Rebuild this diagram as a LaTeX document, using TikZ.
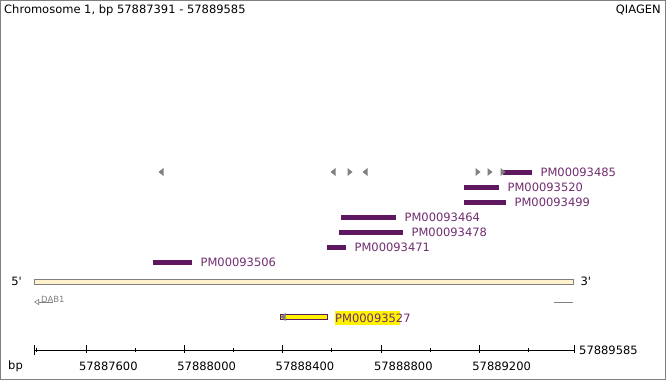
\documentclass[tikz,border=0pt]{standalone}
\usepackage{fontspec}
\setmainfont{DejaVu Sans}
\usetikzlibrary{arrows.meta,positioning}
\definecolor{tfpurple}{RGB}{94,24,96}
\definecolor{tftext}{RGB}{112,44,112}
\definecolor{genecream}{RGB}{255,242,204}
\definecolor{markgray}{RGB}{128,128,128}

\begin{document}
\begin{tikzpicture}[
  x=1pt,y=-1pt,
  font=\fontsize{11.5}{13}\selectfont,
  frame/.style={draw=gray,line width=.8pt},
  tfbar/.style={fill=tfpurple,inner sep=0pt,minimum height=5pt,anchor=west},
  tflabel/.style={text=tftext,inner sep=0pt,anchor=west},
  gene/.style={draw=gray,fill=genecream,inner sep=0pt,minimum height=5.5pt,anchor=west},
  strandmark/.style={fill=markgray},
  axis/.style={draw=black,line width=.6pt},
  ticklab/.style={inner sep=0pt,anchor=west}
]
\useasboundingbox (0,0) rectangle (666,380);
\draw[frame] (0.5,0.5) rectangle (665.5,379.5);
\node[anchor=west,inner sep=0pt] (title) at (4,10) {Chromosome 1, bp 57887391 - 57889585};
\node[anchor=east,inner sep=0pt] (brand) at (661,10) {QIAGEN};

% binding sites
\foreach \i/\xa/\xb/\y/\lab in {
    485/503/532/172/PM00093485,
    520/464/499/187/PM00093520,
    499/464/506/202/PM00093499,
    464/341/396/217/PM00093464,
    478/339/403/232/PM00093478,
    471/327/346/247/PM00093471,
    506/153/192/262/PM00093506}{
  \pgfmathsetlengthmacro{\w}{(\xb-\xa)*1pt}
  \node[tfbar,minimum width=\w] (bar\i) at (\xa,\y) {};
  \node[tflabel,right=8pt of bar\i,yshift=-0.8pt] (lab\i) {\lab};
}

% strand markers
\foreach \x in {161,333,365}
  \fill[strandmark] (\x-2.5,172) -- (\x+2.5,168) -- (\x+2.5,176) -- cycle;
\foreach \x in {350,478,490,503}
  \fill[strandmark] (\x+2.5,172) -- (\x-2.5,168) -- (\x-2.5,176) -- cycle;

% gene
\node[gene,minimum width=539pt] (gene) at (34,281.5) {};
\node[inner sep=0pt,left=12pt of gene] (five) {5\textquotesingle};
\node[inner sep=0pt,right=7pt of gene] (three) {3\textquotesingle};
\coordinate (dabstart) at (53,302);
\coordinate (dabend) at (34,302);
\draw[markgray,line width=.6pt,-{Triangle[open,length=5pt,width=6pt]}] (dabstart) -- (dabend);
\node[text=markgray,font=\fontsize{8.5}{9}\selectfont,inner sep=0pt,anchor=south west] (dab) at (41,303) {DAB1};
\coordinate (tailstart) at (554,302);
\coordinate (tailend) at (573,302);
\draw[markgray,line width=.6pt] (tailstart) -- (tailend);

% highlighted site
\fill[yellow] (335,311) rectangle (400,325);
\node[draw=tfpurple,fill=yellow,line width=.8pt,inner sep=0pt,minimum height=4.5pt,minimum width=47pt,anchor=west] (bar527) at (280,317) {};
\fill[strandmark] (283-2.5,317) -- (283+2.5,313) -- (283+2.5,321) -- cycle;
\node[tflabel,anchor=west] (lab527) at (335,318) {PM00093527};

% axis
\coordinate (axl) at (34.5,350);
\coordinate (axr) at (574,350);
\draw[axis] (axl) -- (axr);
\draw[axis] (34.5,345) -- (34.5,355);
\draw[axis] (36,347.5) -- (36,352);
\draw[axis] (574,345) -- (574,353);
\foreach \x/\lab in {85.9/57887600,184.2/57888000,282.5/57888400,380.9/57888800,479.2/57889200}{
  \draw[axis] (\x,345) -- (\x,353);
  \node[ticklab] at (\x-7,366) {\lab};
}
\foreach \x in {135.1,233.4,331.7,430.0,528.4}
  \draw[axis] (\x,347.5) -- (\x,352);
\node[ticklab] (endlab) at (579,350) {57889585};
\node[ticklab] (bp) at (8,366) {bp};
\end{tikzpicture}
\end{document}
